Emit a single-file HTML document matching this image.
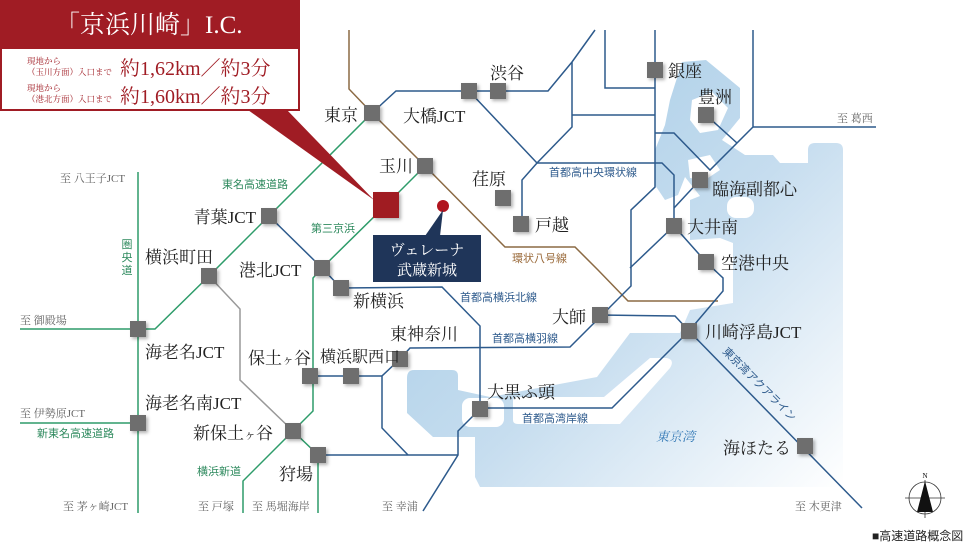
<!DOCTYPE html>
<html><head><meta charset="utf-8"><style>
html,body{margin:0;padding:0;background:#fff;}
svg{display:block;}
.s{font-family:"Liberation Serif","Noto Serif CJK JP",serif;fill:#222;}
.n{font-size:17px;}
.g{font-family:"Liberation Sans","Noto Sans CJK JP",sans-serif;font-size:11px;}
.t{font-family:"Liberation Serif","Noto Serif CJK JP",serif;font-size:11px;fill:#666;}
</style></head><body>
<svg width="980" height="542" viewBox="0 0 980 542" xmlns="http://www.w3.org/2000/svg">
<defs>
<linearGradient id="sea" x1="0" y1="0" x2="1" y2="1">
<stop offset="0" stop-color="#9fc8e4"/><stop offset="0.55" stop-color="#c6ddef"/><stop offset="1" stop-color="#ffffff"/>
</linearGradient>
<filter id="sh" x="-30%" y="-30%" width="170%" height="170%"><feDropShadow dx="2" dy="2" stdDeviation="1.5" flood-color="#000" flood-opacity="0.3"/></filter>
</defs>
<!-- sea -->
<path fill="url(#sea)" d="M682,62 L706,60 L740,88 L740,118 L722,140 L745,155 L773,155 L780,163 L808,163 L808,150 Q808,143 815,143 L836,143 Q843,143 843,150 L843,487 L480,487 L475,477 L475,437 L433,437 L407,413 L407,378 Q407,370 414,370 L452,370 Q458,370 458,376 L458,390 L490,397 L597,377 L630,333 L680,333 L690,310 L733,303 L733,243 L720,238 L690,240 L690,200 L700,196 L685,177 L678,195 L665,200 L655,185 L655,150 L665,125 L670,100 Z"/>
<path fill="#fff" d="M692,100 L712,92 L728,108 L718,130 L700,133 L690,120 Z"/>
<path fill="#fff" d="M688,160 L710,155 L720,170 L705,180 L690,178 Z"/>
<rect x="727" y="197" width="27" height="21" rx="9" fill="#fff"/>
<path fill="#fff" d="M513,401 Q513,397 518,397 L604,397 L650,358 L667,358 Q675,360 670,368 L620,424 L518,424 Q513,424 513,420 Z"/>
<rect x="462" y="398" width="42" height="29" rx="8" fill="#fff"/>
<!-- brown -->
<polyline fill="none" stroke="#8b6a44" stroke-width="1.5" points="349,30 349,89 372,113 425,166 505,247 575,247 598,270 628,301 718,301"/>
<!-- gray -->
<polyline fill="none" stroke="#999" stroke-width="1.5" points="209,276 240,309 240,380 293,431"/>
<!-- green -->
<g fill="none" stroke="#2e9c6a" stroke-width="1.5">
<polyline points="372,113 269,216 209,276 155,329 20,329"/>
<line x1="138" y1="172" x2="138" y2="513"/>
<line x1="20" y1="423" x2="138" y2="423"/>
<polyline points="425,166 386,205 322,268 313,278 313,411 293,431 243,481 243,513"/>
<polyline points="293,431 318,455 318,513"/>
</g>
<!-- blue -->
<g fill="none" stroke="#2d5a8c" stroke-width="1.5">
<polyline points="372,113 396,91 498,91 548,91 572,62 595,30"/>
<polyline points="572,62 572,127 537,163 522,180 522,224"/>
<polyline points="469,91 537,163 662,163 674,175 674,226"/>
<line x1="572" y1="115" x2="655" y2="115"/>
<polyline points="605,30 605,88 655,88"/>
<line x1="655" y1="30" x2="655" y2="70"/>
<polyline points="655,70 655,187 631,210 631,286 570,347 410,348 400,359"/>
<polyline points="655,133 674,133 710,170 753,127 753,30"/>
<line x1="753" y1="127" x2="876" y2="127"/>
<line x1="706" y1="115" x2="737" y2="143"/>
<line x1="700" y1="180" x2="674" y2="208"/>
<line x1="674" y1="226" x2="630" y2="268"/>
<polyline points="674,226 706,262 723,278 723,291 689,331"/>
<polyline points="600,315 675,316 689,331 862,508"/>
<polyline points="689,331 612,408 480,408"/>
<polyline points="269,216 322,268"/>
<polyline points="322,268 341,288 442,287 480,326 480,409 458,431 458,455 423,511"/>
<polyline points="318,455 458,455"/>
<polyline points="400,359 382,376 382,428 408,455"/>
<line x1="310" y1="376" x2="382" y2="376"/>
</g>
<!-- callout -->
<polygon points="248,110 287,110 374,200" fill="#a01c24"/>
<rect x="0" y="0" width="300" height="48" fill="#a01c24"/>
<rect x="1" y="48" width="298" height="62" fill="#fff" stroke="#a01c24" stroke-width="2"/>
<text x="55" y="33" class="s" style="fill:#fff;font-size:25px">「京浜川崎」I.C.</text>
<text x="27" y="64" class="s" style="font-size:8.5px;fill:#a01c24">現地から</text>
<text x="27" y="75" class="s" style="font-size:8.5px;fill:#a01c24">（玉川方面）入口まで</text>
<text x="27" y="91" class="s" style="font-size:8.5px;fill:#a01c24">現地から</text>
<text x="27" y="102" class="s" style="font-size:8.5px;fill:#a01c24">（港北方面）入口まで</text>
<text x="120" y="75" class="s" style="font-size:20px;fill:#a01c24">約1,62km／約3分</text>
<text x="120" y="103" class="s" style="font-size:20px;fill:#a01c24">約1,60km／約3分</text>
<!-- site -->
<rect x="373" y="192" width="26" height="26" fill="#a01c24" filter="url(#sh)"/>
<circle cx="443" cy="206" r="6" fill="#b0141e"/>
<polygon points="425,236 440,236 443,210" fill="#1f3559"/>
<rect x="373" y="235" width="108" height="47" fill="#1f3559"/>
<text x="427" y="255" text-anchor="middle" class="s" style="fill:#fff;font-size:15px">ヴェレーナ</text>
<text x="427" y="275" text-anchor="middle" class="s" style="fill:#fff;font-size:15px">武蔵新城</text>
<!-- nodes -->
<g fill="#6e6e6e" filter="url(#sh)">
<rect x="364" y="105" width="16" height="16"/>
<rect x="461" y="83" width="16" height="16"/>
<rect x="490" y="83" width="16" height="16"/>
<rect x="647" y="62" width="16" height="16"/>
<rect x="698" y="107" width="16" height="16"/>
<rect x="692" y="172" width="16" height="16"/>
<rect x="666" y="218" width="16" height="16"/>
<rect x="698" y="254" width="16" height="16"/>
<rect x="495" y="190" width="16" height="16"/>
<rect x="513" y="216" width="16" height="16"/>
<rect x="417" y="158" width="16" height="16"/>
<rect x="261" y="208" width="16" height="16"/>
<rect x="314" y="260" width="16" height="16"/>
<rect x="201" y="268" width="16" height="16"/>
<rect x="333" y="280" width="16" height="16"/>
<rect x="130" y="321" width="16" height="16"/>
<rect x="302" y="368" width="16" height="16"/>
<rect x="343" y="368" width="16" height="16"/>
<rect x="392" y="351" width="16" height="16"/>
<rect x="130" y="415" width="16" height="16"/>
<rect x="285" y="423" width="16" height="16"/>
<rect x="310" y="447" width="16" height="16"/>
<rect x="472" y="401" width="16" height="16"/>
<rect x="592" y="307" width="16" height="16"/>
<rect x="681" y="323" width="16" height="16"/>
<rect x="797" y="438" width="16" height="16"/>
</g>
<!-- node labels -->
<g class="s n">
<text x="358" y="121" text-anchor="end">東京</text>
<text x="403" y="122">大橋JCT</text>
<text x="490" y="79">渋谷</text>
<text x="668" y="77">銀座</text>
<text x="698" y="103">豊洲</text>
<text x="712" y="195">臨海副都心</text>
<text x="687" y="233">大井南</text>
<text x="721" y="269">空港中央</text>
<text x="472" y="185">荏原</text>
<text x="535" y="231">戸越</text>
<text x="413" y="172" text-anchor="end">玉川</text>
<text x="256" y="223" text-anchor="end">青葉JCT</text>
<text x="145" y="263">横浜町田</text>
<text x="239" y="276">港北JCT</text>
<text x="353" y="307">新横浜</text>
<text x="390" y="340">東神奈川</text>
<text x="145" y="358">海老名JCT</text>
<text x="248" y="364">保土<tspan style="font-size:12px">ヶ</tspan>谷</text>
<text x="320" y="362" style="font-size:16px">横浜駅西口</text>
<text x="145" y="409">海老名南JCT</text>
<text x="193" y="439">新保土<tspan style="font-size:12px">ヶ</tspan>谷</text>
<text x="279" y="480">狩場</text>
<text x="487" y="398">大黒ふ頭</text>
<text x="586" y="323" text-anchor="end">大師</text>
<text x="705" y="338">川崎浮島JCT</text>
<text x="723" y="454">海ほたる</text>
</g>
<text x="656" y="441" class="s" style="font-size:13px;font-style:italic;fill:#3a7db8">東京湾</text>
<!-- route labels -->
<g class="g">
<text x="222" y="188" fill="#2e8a5e">東名高速道路</text>
<text x="311" y="232" fill="#2e8a5e">第三京浜</text>
<text x="197" y="475" fill="#2e8a5e">横浜新道</text>
<text x="37" y="437" fill="#2e8a5e">新東名高速道路</text>
<text x="127" y="248" fill="#2e8a5e" text-anchor="middle">圏</text>
<text x="127" y="261" fill="#2e8a5e" text-anchor="middle">央</text>
<text x="127" y="274" fill="#2e8a5e" text-anchor="middle">道</text>
<text x="512" y="262" fill="#9a6a3a">環状八号線</text>
<text x="549" y="176" fill="#2d5a8c">首都高中央環状線</text>
<text x="460" y="301" fill="#2d5a8c">首都高横浜北線</text>
<text x="492" y="342" fill="#2d5a8c">首都高横羽線</text>
<text x="522" y="422" fill="#2d5a8c">首都高湾岸線</text>
<text x="0" y="0" fill="#2d5a8c" transform="translate(722,352) rotate(45)">東京湾アクアライン</text>
</g>
<g class="t">
<text x="60" y="182">至 八王子JCT</text>
<text x="20" y="324">至 御殿場</text>
<text x="20" y="417">至 伊勢原JCT</text>
<text x="63" y="510">至 茅ヶ崎JCT</text>
<text x="198" y="510">至 戸塚</text>
<text x="252" y="510">至 馬堀海岸</text>
<text x="382" y="510">至 幸浦</text>
<text x="795" y="510">至 木更津</text>
<text x="837" y="122">至 葛西</text>
</g>
<!-- compass -->
<g transform="translate(925,498)">
<circle r="16" fill="none" stroke="#333" stroke-width="0.8"/>
<line x1="-20" y1="0" x2="20" y2="0" stroke="#333" stroke-width="0.8"/>
<line x1="0" y1="-18" x2="0" y2="20" stroke="#333" stroke-width="0.8"/>
<polygon points="0,-17 -8,14 8,14" fill="#111"/>
<text x="0" y="-20" text-anchor="middle" style="font-family:'Liberation Serif',serif;font-size:7px">N</text>
</g>
<text x="872" y="540" style="font-family:'Liberation Sans','Noto Sans CJK JP',sans-serif;font-size:12px;fill:#222">■高速道路概念図</text>
</svg>
</body></html>
